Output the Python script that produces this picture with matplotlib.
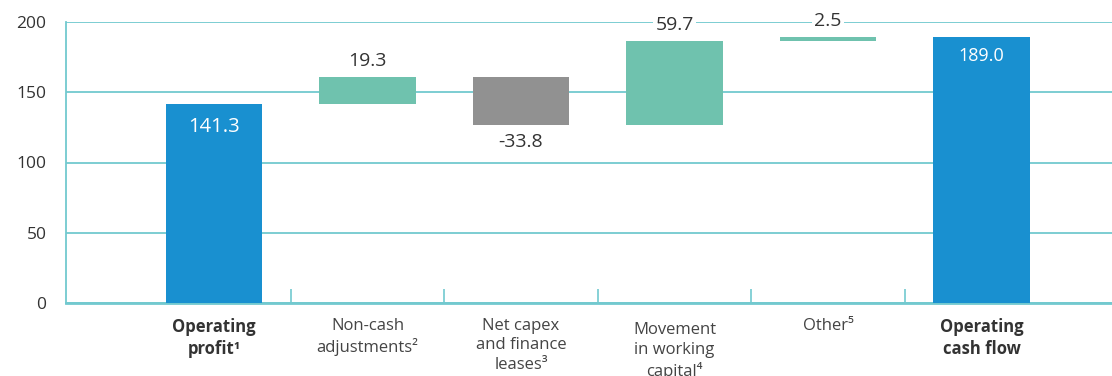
import numpy as np
import matplotlib
matplotlib.use("Agg")
import matplotlib.pyplot as plt
from matplotlib import transforms

plt.rcParams['font.family'] = ['Open Sans', 'DejaVu Sans']

categories = ['Operating\nprofit¹', 'Non-cash\nadjustments²', 'Net capex\nand finance\nleases³',
              'Movement\nin working\ncapital⁴', 'Other⁵', 'Operating\ncash flow']
changes = [141.3, 19.3, -33.8, 59.7, 2.5, 189.0]
kinds = ['total', 'step', 'step', 'step', 'step', 'total']
value_labels = ['141.3', '19.3', '-33.8', '59.7', '2.5', '189.0']
y_ticks = [0, 50, 100, 150, 200]

blue = '#1990d0'
green = '#6fc2ae'
grey = '#919191'
line_col = '#72c9cf'
text_col = '#333333'

fig = plt.figure(figsize=(11.12, 3.76), dpi=100)
ax = fig.add_axes([66 / 1112, 1 - 303 / 376, 1 - 66 / 1112, (303 - 22) / 376])

x = np.arange(len(categories))
bottoms = []
heights = []
colors = []
running = 0
for v, k in zip(changes, kinds):
    if k == 'total':
        bottoms.append(0)
        heights.append(v)
        colors.append(blue)
        running = v
    else:
        if v >= 0:
            bottoms.append(running)
            colors.append(green)
        else:
            bottoms.append(running + v)
            colors.append(grey)
        heights.append(abs(v))
        running += v

ax.bar(x, heights, bottom=bottoms, width=0.63, color=colors, zorder=3)

for i in range(len(x)):
    top = bottoms[i] + heights[i]
    if kinds[i] == 'total':
        fs = 14.5 if i == 0 else 13
        ax.annotate(value_labels[i], (x[i], top), xytext=(0, -16 if i == 0 else -13),
                    textcoords='offset points', ha='center', va='center',
                    color='white', fontsize=fs, zorder=5)
    elif changes[i] >= 0:
        ax.annotate(value_labels[i], (x[i], top), xytext=(0, 11.5),
                    textcoords='offset points', ha='center', va='center',
                    color=text_col, fontsize=14, zorder=5,
                    bbox=dict(facecolor='white', edgecolor='none', pad=1.5))
    else:
        ax.annotate(value_labels[i], (x[i], bottoms[i]), xytext=(0, -12),
                    textcoords='offset points', ha='center', va='center',
                    color=text_col, fontsize=14, zorder=5)

ax.set_xlim(-0.964, 5.85)
ax.set_ylim(0, 200)
ax.set_yticks(y_ticks)
ax.yaxis.grid(True, color=line_col, linewidth=1.3, zorder=0)
ax.tick_params(axis='y', length=0, pad=14, labelsize=12.5, labelcolor=text_col)

ax.set_xticks([])
ax.set_xticks(x[:-1] + 0.5, minor=True)
ax.tick_params(axis='x', which='minor', direction='in', length=10, width=1.2, color=line_col)

for s in ['top', 'right']:
    ax.spines[s].set_visible(False)
ax.spines['left'].set_color(line_col)
ax.spines['left'].set_linewidth(1.3)
ax.spines['bottom'].set_color(line_col)
ax.spines['bottom'].set_linewidth(2)
ax.set_axisbelow(True)

trans = transforms.blended_transform_factory(ax.transData, ax.transAxes)
for i, lab in enumerate(categories):
    bold = kinds[i] == 'total'
    yoff = -0.068 if i == 3 else -0.053
    ax.text(x[i], yoff, lab, transform=trans, ha='center', va='top',
            fontsize=12, fontweight='bold' if bold else 'normal',
            color=text_col if bold else '#444444', linespacing=1.3,
            clip_on=False)

fig.savefig('out.png', dpi=100)
